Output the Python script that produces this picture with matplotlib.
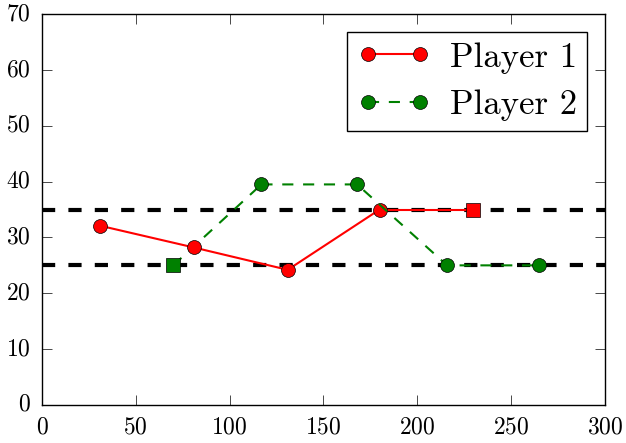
import matplotlib
matplotlib.use("Agg")
import matplotlib.pyplot as plt

# data
p1_x = [31, 81, 131, 180]
p1_y = [32.1, 28.2, 24.2, 35.0]
p1_end = (230, 35.0)

p2_x = [117, 168, 216, 265]
p2_y = [39.5, 39.5, 25.0, 25.0]
p2_start = (70, 25.0)

hlines = [35, 25]

plt.style.use("classic")
plt.rcParams["font.family"] = "serif"
plt.rcParams["font.serif"] = ["cmr10"]
plt.rcParams["mathtext.fontset"] = "cm"
plt.rcParams["axes.unicode_minus"] = False
plt.rcParams["axes.formatter.use_mathtext"] = True

fig = plt.figure(figsize=(6.26, 4.43), dpi=100)
ax = fig.add_axes([0.067, 0.086, 0.899, 0.882])

for y in hlines:
    ax.axhline(y, color="black", lw=3, dashes=(9.5, 9.5))

green_dash = (8, 7)

# connect to the square end points
ax.plot([p1_x[-1], p1_end[0]], [p1_y[-1], p1_end[1]], color="red", lw=1.5)
ax.plot([p2_start[0], p2_x[0]], [p2_start[1], p2_y[0]], color="green", lw=1.5,
        linestyle="--", dashes=green_dash)

ax.plot(p1_x, p1_y, color="red", lw=1.5, marker="o", markersize=10,
        label="Player 1")
ax.plot(p2_x, p2_y, color="green", lw=1.5, linestyle="--", dashes=green_dash,
        marker="o", markersize=10, label="Player 2")

ax.plot(*p1_end, marker="s", color="red", markersize=10)
ax.plot(*p2_start, marker="s", color="green", markersize=10)

ax.set_xlim(0, 300)
ax.set_ylim(0, 70)
ax.tick_params(labelsize=17, length=7, pad=8)
ax.legend(loc="upper right", numpoints=2, fontsize=25, handlelength=2.1,
          borderpad=0.3, labelspacing=0.45, handletextpad=0.55,
          borderaxespad=0.5)

fig.savefig("out.png", dpi=100)
